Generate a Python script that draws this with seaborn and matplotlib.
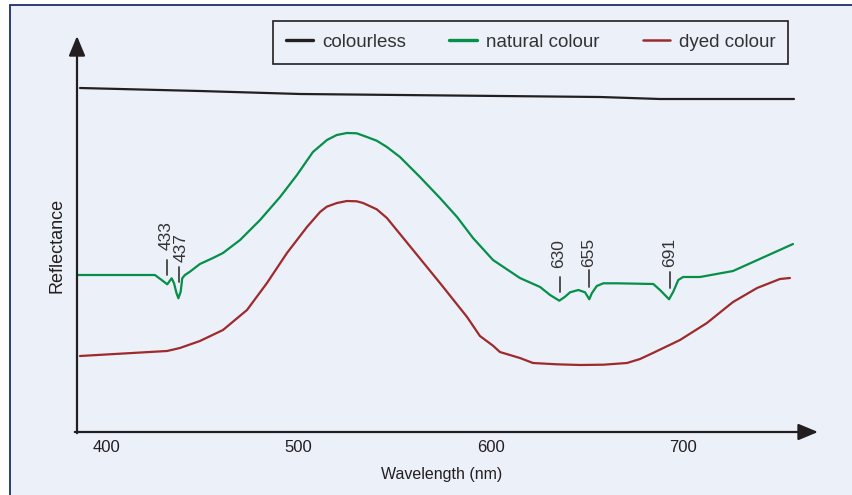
import numpy as np
import pandas as pd
import seaborn as sns
import matplotlib
matplotlib.use("Agg")
import matplotlib.pyplot as plt
from matplotlib.patches import Rectangle
from matplotlib.lines import Line2D

# ---------------- data ----------------
colourless_wl = [386.2, 448.6, 500.7, 604.7, 656.8, 688.0, 757.7]
colourless_r = [344, 341, 338, 336, 335, 333, 333]

natural_wl = [385.2, 425.2, 428.7, 431.6, 433.9, 435.1, 436.4, 437.4, 438.6, 439.4,
              440.8, 443.4, 448.6, 455.4, 460.6, 469.5, 479.9, 490.3, 499.1, 507.4,
              514.7, 519.8, 525.1, 530.2, 535.5, 540.6, 545.9, 552.7, 563.1, 573.5,
              582.4, 590.7, 601.1,
              615.1, 625.6, 630.8, 635.6, 638.6, 641.2, 645.5, 649.0, 651.2, 652.5,
              655.1, 658.5, 665.5, 684.5, 688.0, 692.7, 694.9, 697.5, 700.0, 708.8,
              726.0, 757.2]
natural_r = [157, 157, 152, 147.7, 153.7, 149, 139, 133.7, 140.3, 153.7,
             157, 160.3, 168, 174, 179, 192, 212, 235, 257, 280,
             292, 297, 299, 298.7, 295, 291.3, 285, 275, 255, 234,
             215, 194, 172,
             154, 145, 137, 131.3, 135.3, 139.7, 142, 139.7, 132.7, 138.7,
             146, 148.7, 148.7, 148, 142, 132.7, 140.3, 152, 155, 155,
             161, 188]

dyed_wl = [386.2, 431.5, 438.2, 448.6, 460.6, 473.1, 483.5, 493.9, 504.3, 511.1,
           514.6, 519.9, 525.1, 530.2, 533.5, 540.6, 545.9, 559.5, 573.5, 587.6,
           594.3, 601.1, 604.7, 615.1, 621.9, 634.2, 646.4, 658.5, 670.8, 677.6,
           684.3, 698.4, 712.4, 720.8, 726.0, 738.5, 750.4, 755.6]
dyed_r = [76, 81, 84, 91, 102, 122, 149, 179, 205, 220,
          225.3, 229, 231, 230.7, 229, 222.7, 214, 182, 149, 115,
          96, 86.3, 80, 74, 69, 67.7, 67, 67.3, 69, 73,
          79, 92, 109, 122, 130, 144, 153, 154]

series_names = ["colourless", "natural colour", "dyed colour"]
series_colors = ["#231f20", "#058f48", "#9e2a2b"]
legend_lw = [2.4, 2.4, 1.8]

peak_labels = ["433", "437", "630", "655", "691"]
peak_wl = [431.5, 437.7, 636.0, 651.3, 693.0]
peak_text_wl = [430.9, 438.9, 635.3, 650.9, 693.0]
peak_line_lo = [157, 150, 140, 145, 144]
peak_line_hi = [172, 165, 155, 162, 160]
peak_text_r = [182, 170, 164, 165, 165]

xticks = [400, 500, 600, 700]

# ---------------- style ----------------
sns.set_style("white")
plt.rcParams["font.family"] = ["Liberation Sans", "DejaVu Sans"]
BG = "#ebf0f9"
DARK = "#231f20"

fig = plt.figure(figsize=(8.52, 4.95), dpi=100)
fig.patch.set_facecolor("white")
W, H = 852, 495
fig.patches.append(Rectangle((10 / W, 0), 1 - 10 / W, 1 - 5 / H, transform=fig.transFigure,
                             facecolor=BG, edgecolor="none", zorder=-10))
fig.lines.append(Line2D([10 / W, 1], [1 - 5 / H, 1 - 5 / H], transform=fig.transFigure,
                        color="#2e3a7c", lw=1.4))
fig.lines.append(Line2D([10 / W, 10 / W], [0, 1 - 5 / H], transform=fig.transFigure,
                        color="#2e3a7c", lw=1.4))

ax = fig.add_axes([77 / W, (H - 432) / H, (818 - 77) / W, (432 - 38) / H])
ax.set_facecolor("none")

df = pd.concat([
    pd.DataFrame({"wl": colourless_wl, "r": colourless_r, "s": series_names[0]}),
    pd.DataFrame({"wl": natural_wl, "r": natural_r, "s": series_names[1]}),
    pd.DataFrame({"wl": dyed_wl, "r": dyed_r, "s": series_names[2]}),
])
sns.lineplot(data=df, x="wl", y="r", hue="s", palette=dict(zip(series_names, series_colors)),
             estimator=None, sort=False, lw=1.6, ax=ax, legend=False)
for ln in ax.lines:
    ln.set_solid_joinstyle("round")

ax.set_xlim(384.65, 770.2)
ax.set_ylim(0, 394)
for sp in ax.spines.values():
    sp.set_visible(False)

ax.set_xticks(xticks)
ax.set_xticklabels([str(t) for t in xticks])
ax.set_yticks([])
ax.tick_params(axis="x", direction="in", length=7, width=1.5, color=DARK,
               labelsize=12, labelcolor=DARK, pad=6)

# axes with arrows
arrow_kw = dict(arrowstyle="-|>,head_length=0.6,head_width=0.25", lw=1.6,
                color=DARK, mutation_scale=20, shrinkA=0, shrinkB=0)
ax.annotate("", xy=(1, 0), xytext=(-0.003, 0), xycoords="axes fraction",
            arrowprops=arrow_kw, annotation_clip=False)
ax.annotate("", xy=(0, 1.005), xytext=(0, -0.003), xycoords="axes fraction",
            arrowprops=arrow_kw, annotation_clip=False)

ax.set_xlabel("Wavelength (nm)", fontsize=11.5, color=DARK)
ax.xaxis.set_label_coords(0.4926, -0.09)
ax.set_ylabel("Reflectance", fontsize=13, color=DARK)
ax.yaxis.set_label_coords(-0.015, 0.4746)

# peak annotations
for lab, wl, twl, lo, hi, tr in zip(peak_labels, peak_wl, peak_text_wl,
                                     peak_line_lo, peak_line_hi, peak_text_r):
    ax.plot([wl, wl], [lo, hi], color="#444444", lw=1.3)
    ax.text(twl, tr, lab, rotation=90, ha="center", va="bottom", fontsize=12.5,
            color="#333333")

# legend
handles = [Line2D([], [], color=c, lw=w) for c, w in zip(series_colors, legend_lw)]
leg = fig.legend(handles, series_names, loc="upper left", ncol=3,
                 bbox_to_anchor=(273 / W, 1 - 21 / H),
                 bbox_transform=fig.transFigure, fontsize=13.5, frameon=True,
                 fancybox=False, handlelength=1.45, handletextpad=0.5,
                 columnspacing=2.3, borderpad=0.68, borderaxespad=0)
fr = leg.get_frame()
fr.set_edgecolor(DARK)
fr.set_facecolor(BG)
fr.set_alpha(1)
fr.set_linewidth(1.2)
for t in leg.get_texts():
    t.set_color("#333333")

fig.savefig("out.png", dpi=100, facecolor=fig.get_facecolor())
